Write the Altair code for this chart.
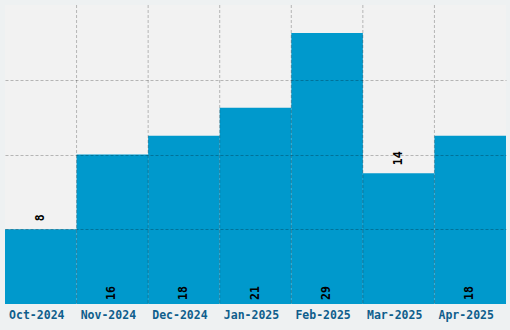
import altair as alt
import pandas as pd

months = ["Oct-2024", "Nov-2024", "Dec-2024", "Jan-2025", "Feb-2025", "Mar-2025", "Apr-2025"]
values = [8, 16, 18, 21, 29, 14, 18]
label_pos = ["top", "base", "base", "base", "base", "top", "base"]
y_grid = [8, 16, 24]

df = pd.DataFrame({"month": months, "value": values, "pos": label_pos})
df_lines = pd.DataFrame({"month": months[1:]})

FONT = "DejaVu Sans Mono"

x_enc = alt.X(
    "month:N",
    sort=months,
    scale=alt.Scale(paddingInner=0, paddingOuter=0),
    axis=alt.Axis(
        title=None, labelAngle=0, ticks=False, domain=False, grid=False,
        labelFont=FONT, labelFontSize=11.5, labelFontWeight="bold",
        labelColor="#0f5e8c", labelPadding=5, labelOffset=-4,
    ),
)
y_scale = alt.Scale(domain=[0, 32], nice=False)

bars = alt.Chart(df).mark_bar(color="#0099cc").encode(
    x=x_enc,
    y=alt.Y(
        "value:Q", scale=y_scale,
        axis=alt.Axis(
            title=None, labels=False, ticks=False, domain=False,
            values=y_grid, grid=True, gridColor="#000000", gridOpacity=0.25,
            gridDash=[3, 2], zindex=1,
        ),
    ),
)

vlines = alt.Chart(df_lines).mark_rule(
    color="#000000", opacity=0.25, strokeDash=[3, 2], strokeWidth=1
).encode(
    x=alt.X("month:N", sort=months, bandPosition=0),
)

text_base = alt.Chart(df).transform_filter(alt.datum.pos == "base").transform_calculate(
    zero="0"
).mark_text(
    angle=270, align="left", baseline="middle", dx=4,
    font=FONT, fontSize=11.5, fontWeight="bold", color="#000000",
).encode(
    x=alt.X("month:N", sort=months),
    y=alt.Y("zero:Q", scale=y_scale),
    text=alt.Text("value:Q"),
)

text_top = alt.Chart(df).transform_filter(alt.datum.pos == "top").mark_text(
    angle=270, align="left", baseline="middle", dx=8,
    font=FONT, fontSize=11.5, fontWeight="bold", color="#000000",
).encode(
    x=alt.X("month:N", sort=months),
    y=alt.Y("value:Q", scale=y_scale),
    text=alt.Text("value:Q"),
)

chart = alt.layer(bars, vlines, text_base, text_top).properties(
    width=501,
    height=299,
    autosize=alt.AutoSizeParams(type="none"),
    padding={"left": 5, "top": 5, "right": 4, "bottom": 26},
    background="#eef1f2",
).configure_view(fill="#f2f2f2", stroke=None)

chart.save("out.html", embed_options={"renderer": "svg", "actions": False})
